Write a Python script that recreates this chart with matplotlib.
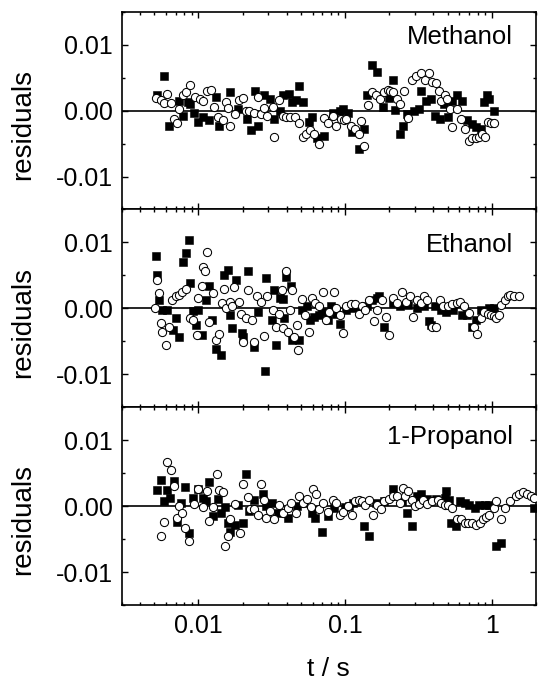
import matplotlib
matplotlib.use("Agg")
import matplotlib.pyplot as plt
from matplotlib.ticker import FixedLocator, LogLocator, MultipleLocator, NullFormatter

plt.rcParams['font.family'] = ['Liberation Sans', 'DejaVu Sans']

# ---------------- data ----------------
panel_names = ["Methanol", "Ethanol", "1-Propanol"]
x_ticks = [0.01, 0.1, 1]
x_tick_labels = ["0.01", "0.1", "1"]
y_ticks = [-0.01, 0.0, 0.01]
y_tick_labels = ["-0.01", "0.00", "0.01"]

meth_sq_t = [0.00523, 0.00582, 0.00631, 0.00743, 0.00784, 0.00851, 0.00873, 0.00931, 0.0100, 0.0108,
             0.0118, 0.0131, 0.0138, 0.0163, 0.0186, 0.0213, 0.0229, 0.0244, 0.0255, 0.0279,
             0.0306, 0.0328, 0.0360, 0.0376, 0.0414, 0.0437, 0.0461, 0.0487, 0.0514, 0.0564,
             0.0595, 0.0645, 0.0719, 0.0823, 0.0917, 0.0968, 0.105, 0.111, 0.124, 0.134,
             0.141, 0.152, 0.164, 0.182, 0.199, 0.212, 0.218, 0.236, 0.249, 0.263,
             0.293, 0.318, 0.330, 0.354, 0.385, 0.410, 0.440, 0.472, 0.503, 0.537,
             0.577, 0.625, 0.678, 0.728, 0.776, 0.841, 0.888, 0.922, 0.963, 1.03]
meth_sq_r = [0.0023, 0.0052, -0.0024, 0.0015, -0.0008, 0.0013, 0.0010, -0.0003, -0.0018, -0.0010,
             -0.0015, 0.0020, -0.0023, 0.0028, 0.0003, -0.0013, -0.0029, 0.0029, -0.0024, 0.0023,
             0.0018, -0.0013, 0.0, 0.0023, 0.0025, 0.0013, 0.0016, 0.0038, 0.0013, -0.0018,
             -0.0010, -0.0041, -0.0038, -0.0003, 0.0, 0.0002, -0.0003, -0.0033, -0.0058, -0.0028,
             0.0024, 0.0069, 0.0058, 0.0006, 0.0019, 0.0046, 0.0001, -0.0036, -0.0024, -0.0005,
             0.0, 0.0002, 0.0030, 0.0015, 0.0017, -0.0008, -0.0013, 0.0010, -0.0010, 0.0015,
             0.0023, 0.0015, -0.0015, -0.0020, -0.0025, -0.0028, 0.0013, 0.0023, 0.0018, 0.0]

meth_ci_t = [0.00514, 0.00552, 0.00582, 0.00615, 0.00649, 0.00685, 0.00711, 0.00735, 0.00784, 0.00828,
             0.00873, 0.00947, 0.0102, 0.0108, 0.0115, 0.0121, 0.0128, 0.0136, 0.0146, 0.0154,
             0.0160, 0.0165, 0.0178, 0.0188, 0.0202, 0.0210, 0.0221, 0.0238, 0.0255, 0.0265,
             0.0279, 0.0295, 0.0320, 0.0330, 0.0352, 0.0376, 0.0397, 0.0419, 0.0454, 0.0487,
             0.0514, 0.0543, 0.0573, 0.0611, 0.0663, 0.0719, 0.0767, 0.0823, 0.0869, 0.0932,
             0.0984, 0.102, 0.110, 0.117, 0.124, 0.129, 0.134, 0.144, 0.153, 0.162,
             0.173, 0.185, 0.196, 0.203, 0.212, 0.224, 0.236, 0.252, 0.270, 0.285,
             0.306, 0.327, 0.349, 0.374, 0.394, 0.417, 0.433, 0.452, 0.477, 0.498,
             0.517, 0.537, 0.577, 0.618, 0.659, 0.697, 0.735, 0.776, 0.819, 0.855,
             0.903, 0.937, 0.989, 1.03]
meth_ci_r = [0.0019, 0.0016, 0.0011, 0.0025, 0.0011, -0.0013, -0.0019, 0.0003, 0.0023, 0.0028,
             0.0039, 0.0021, 0.0018, 0.0015, 0.0029, 0.0031, 0.0006, -0.0010, -0.0014, 0.0013,
             0.0004, -0.0024, -0.0005, 0.0016, 0.0019, 0.0, 0.0, -0.0003, 0.0020, -0.0005,
             0.0004, -0.0008, 0.0005, -0.0040, 0.0016, -0.0008, -0.0010, -0.0010, -0.0009, -0.0019,
             -0.0040, -0.0036, -0.0030, -0.0035, -0.0051, -0.0011, -0.0019, -0.0008, -0.0024, -0.0013,
             -0.0015, -0.0013, -0.0023, -0.0028, -0.0036, -0.0016, -0.0053, 0.0008, 0.0028, 0.0023,
             0.0018, 0.0028, 0.0031, 0.0030, 0.0028, 0.0018, 0.0010, 0.0030, -0.0011, 0.0046,
             0.0052, 0.0057, 0.0046, 0.0057, 0.0043, 0.0042, 0.0030, 0.0014, 0.0023, 0.0018,
             0.0003, -0.0025, 0.0003, -0.0013, -0.0028, -0.0046, -0.0041, -0.0041, -0.0040, -0.0036,
             -0.0040, -0.0018, -0.0019, -0.0019]

eth_sq_t = [0.00514, 0.00523, 0.00537, 0.00567, 0.00615, 0.00667, 0.00704, 0.00735, 0.00784, 0.00828,
            0.00859, 0.00883, 0.00922, 0.00963, 0.0100, 0.0106, 0.0113, 0.0118, 0.0124, 0.0131,
            0.0142, 0.0150, 0.0158, 0.0163, 0.0169, 0.0181, 0.0197, 0.0202, 0.0219, 0.0241,
            0.0255, 0.0284, 0.0290, 0.0316, 0.0328, 0.0337, 0.0360, 0.0376, 0.0386, 0.0393,
            0.0430, 0.0437, 0.0487, 0.0506, 0.0549, 0.0573, 0.0611, 0.0663, 0.0700, 0.0759,
            0.0801, 0.0869, 0.0917, 0.102, 0.114, 0.127, 0.141, 0.153, 0.166, 0.171,
            0.185, 0.212, 0.236, 0.270, 0.309, 0.345, 0.374, 0.385, 0.410, 0.452,
            0.490, 0.546, 0.625, 0.678, 0.728, 0.776, 0.841, 0.963, 1.04]
eth_sq_r = [0.0079, 0.0051, 0.0013, -0.0003, -0.0003, -0.0033, -0.0015, -0.0044, 0.0071, 0.0084,
            0.0103, 0.0038, -0.0004, -0.0025, -0.0003, -0.0041, 0.0013, 0.0034, -0.0018, -0.0061,
            -0.0071, 0.0051, 0.0058, -0.0010, -0.0030, 0.0043, -0.0038, -0.0043, 0.0056, -0.0058,
            -0.0005, -0.0095, 0.0046, -0.0017, 0.0028, -0.0056, 0.0015, 0.0014, -0.0015, 0.0047,
            0.0034, -0.0048, -0.0048, -0.0003, 0.0003, -0.0018, -0.0013, -0.0010, -0.0005, -0.0018,
            0.0003, -0.0008, -0.0023, -0.0003, 0.0, -0.0003, 0.0003, 0.0013, 0.0015, 0.0018,
            -0.0029, 0.0008, 0.0003, 0.0005, 0.0, 0.0003, -0.0019, -0.0025, 0.0003, -0.0003,
            -0.0005, -0.0003, -0.0010, -0.0010, -0.0028, -0.0018, -0.0003, 0.0, 0.0]

eth_ci_t = [0.00509, 0.00523, 0.00537, 0.00552, 0.00567, 0.00605, 0.00631, 0.00659, 0.00704, 0.00735,
            0.00771, 0.00828, 0.00873, 0.00922, 0.00973, 0.0100, 0.0106, 0.0108, 0.0111, 0.0115,
            0.0118, 0.0126, 0.0131, 0.0138, 0.0144, 0.0150, 0.0154, 0.0163, 0.0169, 0.0176,
            0.0188, 0.0194, 0.0202, 0.0210, 0.0219, 0.0231, 0.0241, 0.0251, 0.0269, 0.0279,
            0.0295, 0.0320, 0.0337, 0.0356, 0.0372, 0.0380, 0.0393, 0.0408, 0.0419, 0.0437,
            0.0447, 0.0467, 0.0480, 0.0506, 0.0534, 0.0564, 0.0595, 0.0628, 0.0663, 0.0711,
            0.0739, 0.0780, 0.0837, 0.0869, 0.0917, 0.0968, 0.102, 0.110, 0.117, 0.124,
            0.130, 0.137, 0.145, 0.157, 0.166, 0.178, 0.190, 0.199, 0.212, 0.226,
            0.243, 0.260, 0.278, 0.290, 0.309, 0.330, 0.345, 0.364, 0.394, 0.417,
            0.440, 0.464, 0.503, 0.537, 0.577, 0.608, 0.642, 0.697, 0.755, 0.796,
            0.841, 0.888, 0.937, 0.989, 1.03, 1.07, 1.12, 1.16, 1.23, 1.28,
            1.33, 1.41, 1.52]
eth_ci_r = [0.0, 0.0043, 0.0024, -0.0022, -0.0036, -0.0056, -0.0029, 0.0013, 0.0018, 0.0021,
            0.0025, 0.0029, -0.0015, -0.0018, -0.0041, 0.0015, 0.0034, 0.0063, 0.0056, 0.0086,
            -0.0020, 0.0023, -0.0048, -0.0039, 0.0008, 0.0030, 0.0, 0.0010, 0.0004, 0.0032,
            0.0010, -0.0008, -0.0051, -0.0015, 0.0028, -0.0018, -0.0051, 0.0018, 0.0010, -0.0042,
            0.0018, -0.0003, -0.0028, -0.0008, 0.0028, -0.0030, 0.0056, -0.0036, -0.0003, 0.0028,
            -0.0043, -0.0025, -0.0063, 0.0014, -0.0010, -0.0036, 0.0015, 0.0008, 0.0004, 0.0025,
            -0.0018, -0.0005, 0.0025, 0.0, -0.0010, -0.0038, 0.0004, 0.0007, 0.0007, -0.0008,
            0.0003, -0.0002, 0.0013, -0.0019, -0.0003, 0.0013, -0.0013, -0.0041, 0.0015, 0.0008,
            0.0025, 0.0009, 0.0018, -0.0013, 0.0013, 0.0008, 0.0018, 0.0013, -0.0028, -0.0028,
            0.0013, 0.0004, 0.0004, 0.0007, 0.0008, 0.0010, 0.0004, -0.0007, -0.0028, -0.0039,
            -0.0015, -0.0005, -0.0008, -0.0010, -0.0012, -0.0015, -0.0010, 0.0005, 0.0013, 0.0018,
            0.0020, 0.0018, 0.0019]

prop_sq_t = [0.00523, 0.00552, 0.00582, 0.00608, 0.00639, 0.00678, 0.00711, 0.00763, 0.00805, 0.00864,
             0.00922, 0.0100, 0.0108, 0.0113, 0.0118, 0.0126, 0.0135, 0.0142, 0.0152, 0.0158,
             0.0165, 0.0178, 0.0186, 0.0202, 0.0210, 0.0221, 0.0241, 0.0275, 0.0287, 0.0316,
             0.0347, 0.0408, 0.0467, 0.0514, 0.0595, 0.0628, 0.0700, 0.0759, 0.0846, 0.0995,
             0.106, 0.114, 0.134, 0.145, 0.162, 0.185, 0.212, 0.243, 0.266, 0.285,
             0.309, 0.330, 0.364, 0.417, 0.477, 0.490, 0.509, 0.526, 0.567, 0.608,
             0.659, 0.704, 0.767, 0.819, 0.903, 0.963, 1.07, 1.16, 1.95]
prop_sq_r = [0.0025, 0.0040, 0.0008, 0.0024, 0.0013, 0.0038, -0.0024, 0.0005, 0.0029, -0.0041,
             0.0013, 0.0026, 0.0013, 0.0008, 0.0036, -0.0015, 0.0011, -0.0010, -0.0001, -0.0025,
             -0.0039, -0.0029, 0.0001, -0.0025, 0.0049, -0.0008, 0.0009, 0.0019, 0.0, 0.0005,
             -0.0010, -0.0018, 0.0, 0.0005, -0.0010, -0.0018, -0.0040, -0.0015, -0.0003, -0.0001,
             0.0, 0.0005, -0.0030, -0.0045, 0.0005, 0.0008, 0.0026, 0.0008, -0.0010, -0.0030,
             0.0015, 0.0019, 0.0011, 0.0011, 0.0013, 0.0023, 0.0010, -0.0025, -0.0030, 0.0008,
             0.0005, 0.0001, -0.0003, 0.0001, 0.0001, 0.0001, -0.0061, -0.0056, -0.0003]

prop_ci_t = [0.00552, 0.00582, 0.00615, 0.00649, 0.00685, 0.00711, 0.00743, 0.00776, 0.00805, 0.00864,
             0.00931, 0.0100, 0.0108, 0.0115, 0.0119, 0.0126, 0.0133, 0.0138, 0.0146, 0.0152,
             0.0158, 0.0163, 0.0178, 0.0191, 0.0202, 0.0217, 0.0225, 0.0241, 0.0255, 0.0269,
             0.0279, 0.0290, 0.0306, 0.0328, 0.0352, 0.0376, 0.0408, 0.0430, 0.0461, 0.0487,
             0.0514, 0.0549, 0.0586, 0.0605, 0.0638, 0.0663, 0.0711, 0.0767, 0.0823, 0.0869,
             0.0917, 0.0968, 0.105, 0.112, 0.117, 0.124, 0.130, 0.137, 0.145, 0.155,
             0.166, 0.175, 0.185, 0.199, 0.212, 0.224, 0.236, 0.247, 0.256, 0.270,
             0.285, 0.301, 0.318, 0.341, 0.364, 0.394, 0.428, 0.452, 0.477, 0.503,
             0.531, 0.577, 0.618, 0.653, 0.689, 0.735, 0.776, 0.828, 0.874, 0.912,
             0.963, 1.03, 1.07, 1.15, 1.23, 1.33, 1.45, 1.52, 1.64, 1.75,
             1.84, 1.95]
prop_ci_r = [-0.0045, -0.0024, 0.0067, 0.0055, 0.0031, -0.0018, 0.0, -0.0010, -0.0033, -0.0053,
             0.0003, 0.0026, -0.0001, 0.0023, -0.0023, -0.0001, 0.0049, 0.0025, 0.0021, -0.0060,
             -0.0046, -0.0020, 0.0003, -0.0041, 0.0034, 0.0014, -0.0005, -0.0005, -0.0013, 0.0033,
             0.0009, -0.0018, -0.0008, -0.0019, 0.0001, -0.0010, -0.0003, 0.0005, -0.0010, 0.0016,
             0.0005, 0.0011, -0.0001, 0.0026, 0.0019, -0.0005, 0.0004, -0.0009, 0.0009, 0.0005,
             -0.0014, -0.0009, 0.0, -0.0013, 0.0008, 0.0009, 0.0008, 0.0001, 0.0009, -0.0013,
             0.0001, -0.0004, 0.0008, 0.0011, 0.0015, 0.0015, 0.0005, 0.0028, 0.0015, 0.0023,
             0.0010, 0.0, 0.0003, 0.0010, 0.0003, 0.0008, 0.0010, 0.0005, 0.0001, 0.0001,
             -0.0003, -0.0019, -0.0020, -0.0025, -0.0026, -0.0026, -0.0029, -0.0026, -0.0020, -0.0016,
             -0.0013, -0.0003, 0.0008, -0.0019, -0.0003, 0.0008, 0.0015, 0.0018, 0.0021, 0.0018,
             0.0015, 0.0013]

squares = [(meth_sq_t, meth_sq_r), (eth_sq_t, eth_sq_r), (prop_sq_t, prop_sq_r)]
circles = [(meth_ci_t, meth_ci_r), (eth_ci_t, eth_ci_r), (prop_ci_t, prop_ci_r)]
label_y = [0.837, 0.785, 0.814]

# ---------------- figure ----------------
W, H = 541, 691
fig = plt.figure(figsize=(W / 100, H / 100), dpi=100)
left, right, top, bottom = 121.7, 536.0, 11.7, 605.0
ph = (bottom - top) / 3.0

axes = []
for i in range(3):
    y0 = H - (top + (i + 1) * ph)
    ax = fig.add_axes([left / W, y0 / H, (right - left) / W, ph / H])
    axes.append(ax)
    st, sr = squares[i]
    ct, cr = circles[i]
    ax.axhline(0.0, color='black', lw=1.2, zorder=1)
    ax.plot(st, sr, ls='none', marker='s', ms=5.3, mfc='black', mec='black', mew=0.4, zorder=2)
    ax.plot(ct, cr, ls='none', marker='o', ms=5.9, mfc='white', mec='black', mew=0.75, zorder=3)
    ax.set_xscale('log')
    ax.set_xlim(0.003, 2.0)
    ax.set_ylim(-0.015, 0.015)
    ax.xaxis.set_major_locator(FixedLocator(x_ticks))
    ax.xaxis.set_minor_locator(LogLocator(base=10, subs=range(2, 10), numticks=20))
    ax.xaxis.set_minor_formatter(NullFormatter())
    ax.set_yticks(y_ticks)
    ax.set_yticklabels(y_tick_labels)
    ax.yaxis.set_minor_locator(MultipleLocator(0.005))
    ax.tick_params(which='both', direction='in', top=True, right=True, width=1.0)
    ax.tick_params(which='major', length=4.5, labelsize=18, pad=6.5)
    ax.tick_params(which='minor', length=2.5)
    for sp in ax.spines.values():
        sp.set_linewidth(1.2)
    ax.set_ylabel("residuals", fontsize=20)
    ax.yaxis.set_label_coords(-0.207, 0.43)
    ax.text(0.9445, label_y[i], panel_names[i], transform=ax.transAxes,
            ha='right', va='baseline', fontsize=18.5)
    if i < 2:
        ax.tick_params(labelbottom=False)
    else:
        ax.set_xticklabels(x_tick_labels)
        ax.set_xlabel("t / s", fontsize=19, labelpad=14)

fig.savefig("out.png", dpi=100)
